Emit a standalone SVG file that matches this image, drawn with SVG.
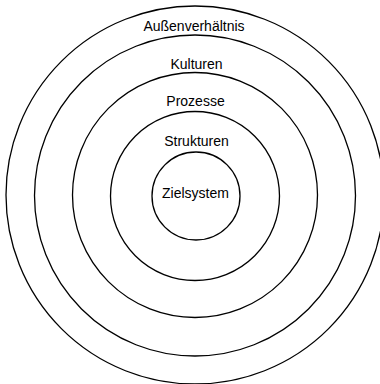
<svg xmlns="http://www.w3.org/2000/svg" width="380" height="384" viewBox="0 0 380 384">
<style>
.ring{fill:none;stroke:#000;stroke-width:1.3}
.lbl{font-family:"Liberation Sans",Arial,sans-serif;font-size:14px;fill:#000;text-anchor:middle}
</style>
<rect width="380" height="384" fill="#fff"/>
<g id="aussenverhaeltnis"><circle class="ring" cx="195" cy="195" r="189"/><text class="lbl" x="194" y="30.5">Außenverhältnis</text></g>
<g id="kulturen"><circle class="ring" cx="195" cy="195.5" r="160.5"/><text class="lbl" x="196.5" y="68.5">Kulturen</text></g>
<g id="prozesse"><circle class="ring" cx="195" cy="195" r="122.5"/><text class="lbl" x="195.5" y="105.5">Prozesse</text></g>
<g id="strukturen"><circle class="ring" cx="195" cy="196" r="84.5"/><text class="lbl" x="196.5" y="145.5">Strukturen</text></g>
<g id="zielsystem"><circle class="ring" cx="196" cy="196" r="44"/><text class="lbl" x="195.5" y="197.5">Zielsystem</text></g>
</svg>
